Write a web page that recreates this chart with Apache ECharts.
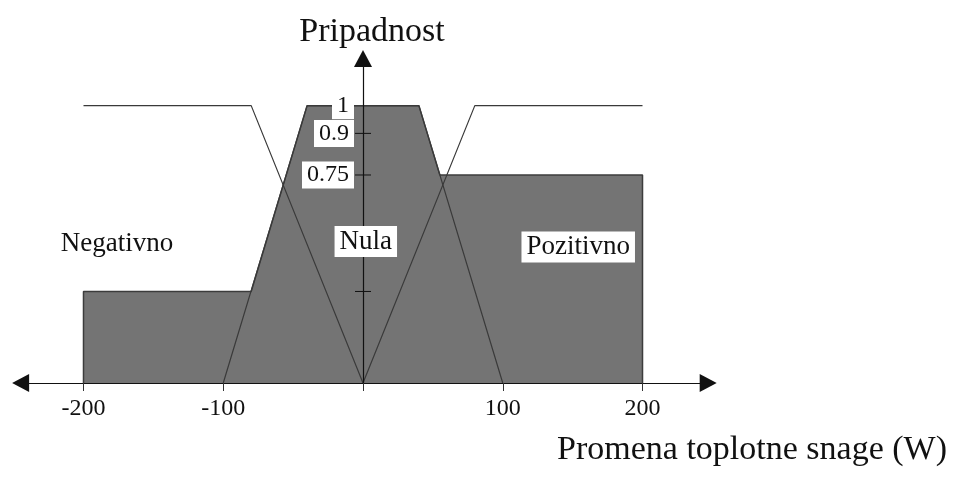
<!DOCTYPE html>
<html>
<head>
<meta charset="utf-8">
<title>Pripadnost</title>
<script src="https://cdn.jsdelivr.net/npm/echarts@6/dist/echarts.min.js"></script>
<style>
  html, body { margin: 0; padding: 0; background: #fff; }
  #chart { width: 956px; height: 477px; }
</style>
</head>
<body>
<div id="chart"></div>
<script>
// Membership functions (x in W, y = degree of membership)
const negativno = [[-200, 1], [-80, 1], [0, 0]];
const nula = [[-100, 0], [-40, 1], [40, 1], [100, 0]];
const pozitivno = [[0, 0], [80, 1], [200, 1]];

// Aggregated (clipped) output region
const aggregated = [[-200, 0], [-200, 0.33], [-80, 0.33], [-40, 1], [40, 1], [55, 0.75], [200, 0.75], [200, 0]];

// Set labels and their anchor points
const setNames = ['Negativno', 'Nula', 'Pozitivno'];
const setLabelX = [-176, 2, 154];
const setLabelY = [0.5, 0.51, 0.49];
const setLabelBoxed = [false, true, true];

// Axis ticks and labels
const xTickValues = [-200, -100, 0, 100, 200];
const xLabelValues = [-200, -100, 100, 200];
const yTickValues = [0.33, 0.75, 0.9];
const yLabelValues = [0.75, 0.9, 1];

const serif = 'Liberation Serif';
const ink = '#111';

// Plot area and x range; the membership axis sits at x = 0
const gridLeft = 20.6, gridRight = 247.8;
const xMin = -245, xMax = 247;
const plotWidth = 956 - gridLeft - gridRight;
const yAxisOffset = -plotWidth * (0 - xMin) / (xMax - xMin);

const chart = echarts.init(document.getElementById('chart'), null, { renderer: 'canvas' });

const labelData = setNames.map((n, i) => ({
  value: [setLabelX[i], setLabelY[i]],
  name: n,
  label: setLabelBoxed[i]
    ? { backgroundColor: '#fff', padding: [3, 5, 1, 5] }
    : {}
}));

chart.setOption({
  animation: false,
  backgroundColor: '#fff',
  title: [{
    text: 'Promena toplotne snage (W)',
    right: 4,
    top: 428,
    textStyle: { fontFamily: serif, fontSize: 34, fontWeight: 'normal', color: ink }
  }],
  grid: {
    left: gridLeft, right: gridRight, top: 58.5, bottom: 94,
    containLabel: false,
    outerBoundsMode: 'none'
  },
  xAxis: {
    type: 'value',
    min: xMin,
    max: xMax,
    z: 6,
    splitLine: { show: false },
    axisLine: {
      onZero: true,
      symbol: ['triangle', 'triangle'],
      symbolSize: [18, 17],
      lineStyle: { color: ink, width: 1.2 }
    },
    axisTick: { show: true, length: 8, customValues: xTickValues, lineStyle: { color: '#333', width: 1 } },
    axisLabel: {
      customValues: xLabelValues,
      hideOverlap: false,
      margin: 14,
      fontFamily: serif,
      fontSize: 24,
      color: ink
    }
  },
  yAxis: {
    type: 'value',
    min: 0,
    max: 1.17,
    position: 'left',
    offset: yAxisOffset,
    z: 6,
    name: 'Pripadnost',
    nameLocation: 'end',
    nameGap: 9,
    nameTextStyle: { fontFamily: serif, fontSize: 34, color: ink, padding: [0, 0, 0, 18] },
    splitLine: { show: false },
    axisLine: {
      onZero: false,
      symbol: ['none', 'triangle'],
      symbolSize: [18, 17],
      lineStyle: { color: ink, width: 1.2 }
    },
    axisTick: { show: false },
    axisLabel: {
      customValues: yLabelValues,
      showMaxLabel: true,
      hideOverlap: false,
      margin: 9,
      fontFamily: serif,
      fontSize: 24,
      color: ink,
      backgroundColor: '#fff',
      padding: [3, 5, 0, 5]
    }
  },
  series: [
    {
      type: 'line',
      data: aggregated,
      symbol: 'none',
      z: 1,
      lineStyle: { color: '#3c3c3c', width: 1.5 },
      areaStyle: { color: '#747474', opacity: 1, origin: 'start' }
    },
    {
      type: 'line', data: negativno, symbol: 'none', z: 3,
      lineStyle: { color: '#3a3a3a', width: 1.2 }
    },
    {
      type: 'line', data: nula, symbol: 'none', z: 3,
      lineStyle: { color: '#3a3a3a', width: 1.2 }
    },
    {
      type: 'line', data: pozitivno, symbol: 'none', z: 3,
      lineStyle: { color: '#3a3a3a', width: 1.2 }
    },
    {
      // tick marks crossing the membership axis
      type: 'custom',
      data: yTickValues.map(v => [0, v]),
      z: 4,
      silent: true,
      renderItem: (params, api) => {
        const p = api.coord([api.value(0), api.value(1)]);
        return {
          type: 'line',
          shape: { x1: p[0] - 8, y1: p[1], x2: p[0] + 8, y2: p[1] },
          style: { stroke: ink, lineWidth: 1 }
        };
      }
    },
    {
      type: 'scatter',
      data: labelData,
      symbolSize: 0,
      z: 8,
      itemStyle: { opacity: 1 },
      label: {
        show: true,
        position: 'inside',
        formatter: p => p.name,
        fontFamily: serif,
        fontSize: 27,
        color: ink
      }
    }
  ]
});
</script>
</body>
</html>
